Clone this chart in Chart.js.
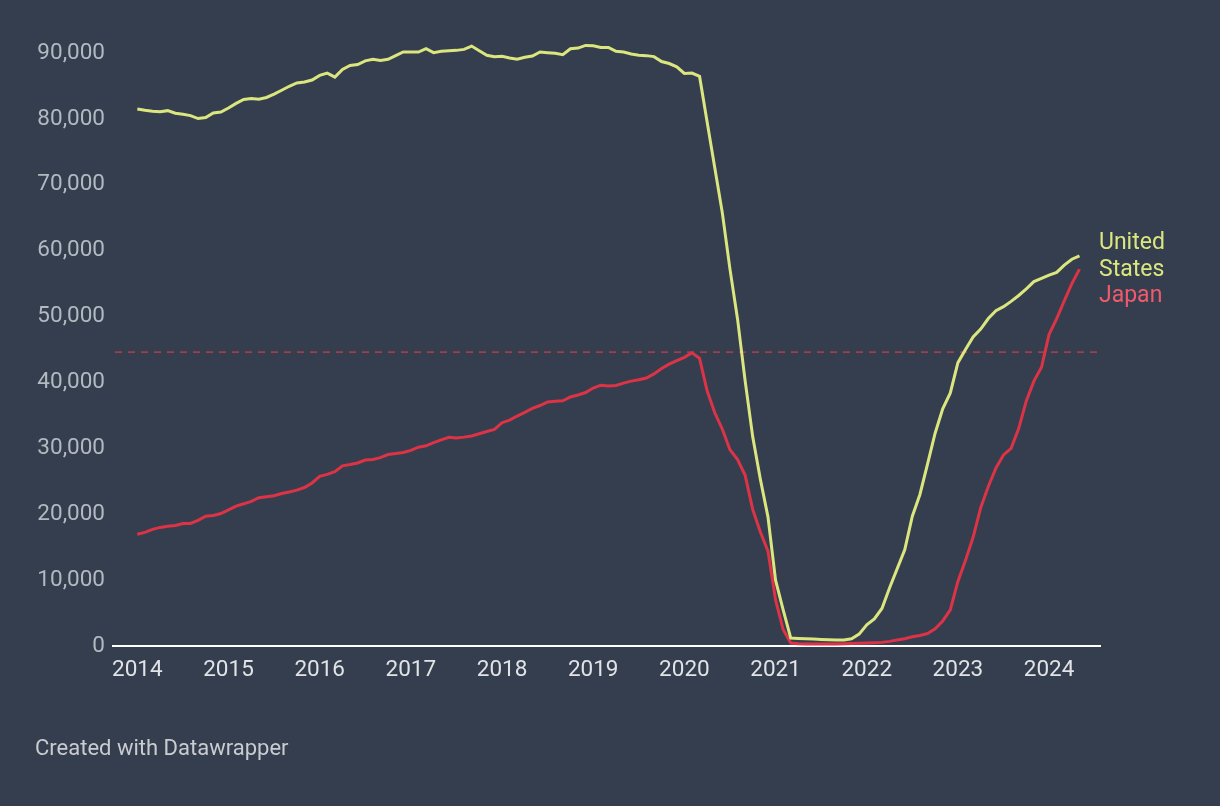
<!DOCTYPE html>
<html>
<head>
<meta charset="utf-8">
<script src="https://cdn.jsdelivr.net/npm/chart.js@4/dist/chart.umd.min.js"></script>
<style>
  html, body { margin: 0; padding: 0; background: #343e4e; }
  #wrap { position: relative; width: 1220px; height: 806px; }
  #footer { position: absolute; left: 35px; top: 735px; font: 22px Roboto, sans-serif; color: #c9ccd1; }
</style>
</head>
<body>
<div id="wrap">
  <canvas id="chart" width="1220" height="806"></canvas>
  <div id="footer">Created with Datawrapper</div>
</div>
<script>
// --- Data (monthly, Jan 2014 .. May 2024) ---
const startYear = 2014;
const yearLabels = ['2014', '2015', '2016', '2017', '2018', '2019', '2020', '2021', '2022', '2023', '2024'];
const yTicks = [0, 10000, 20000, 30000, 40000, 50000, 60000, 70000, 80000, 90000];
const refLine = 44600; // dashed line (pre-pandemic Japan level)

const usValues = [
  81500, 81300, 81150, 81100, 81250, 80850, 80700, 80500, 80050, 80200, 80900, 81050,
  81650, 82350, 82950, 83100, 83000, 83250, 83750, 84350, 84950, 85450, 85600, 85900,
  86600, 86950, 86350, 87500, 88100, 88250, 88800, 89050, 88850, 89050, 89600, 90150,
  90150, 90150, 90650, 90050, 90250, 90350, 90400, 90550, 91050, 90350, 89650, 89450,
  89500, 89250, 89050, 89350, 89550, 90150, 90050, 89950, 89750, 90650, 90750, 91150,
  91100, 90850, 90850, 90250, 90150, 89850, 89650, 89600, 89450, 88700, 88400, 87900,
  86900, 86950, 86450, 79500, 72600, 65700, 57200, 49600, 40200, 31700, 25300, 19600,
  10000, 5500, 1200, 1150, 1100, 1050, 1000, 950, 900, 900, 1100, 1800,
  3200, 4100, 5700, 8800, 11700, 14600, 19700, 23000, 27600, 32300, 36000, 38400,
  43000, 45000, 46900, 48100, 49700, 50900, 51500, 52300, 53200, 54200, 55300, 55800,
  56300, 56700, 57800, 58700, 59200
];

const japanValues = [
  16950, 17250, 17700, 18000, 18160, 18280, 18600, 18600, 19070, 19700, 19810, 20100,
  20650, 21240, 21580, 21950, 22500, 22650, 22800, 23150, 23380, 23650, 24050, 24750,
  25750, 26050, 26450, 27350, 27540, 27780, 28230, 28310, 28590, 29060, 29230, 29360,
  29680, 30170, 30380, 30870, 31280, 31670, 31580, 31700, 31880, 32210, 32550, 32880,
  33890, 34290, 34900, 35470, 36050, 36500, 37050, 37140, 37220, 37790, 38100, 38470,
  39150, 39580, 39460, 39550, 39900, 40200, 40420, 40680, 41290, 42120, 42770, 43310,
  43800, 44500, 43650, 38700, 35400, 32900, 29800, 28300, 25900, 20700, 17300, 14400,
  7000, 2500, 450, 350, 300, 300, 300, 300, 320, 350, 380, 420,
  450, 500, 550, 700, 900, 1100, 1400, 1600, 1900, 2600, 3800, 5500,
  9800, 13000, 16500, 21000, 24200, 27000, 29000, 30000, 33000, 37200, 40200, 42300,
  47300, 49700, 52400, 55000, 57200
];

const US_COLOR = '#dce67f';
const JP_COLOR = '#dc3446';

const toPoints = vals => vals.map((v, i) => ({ x: i, y: v }));

// dashed reference line + end labels
const overlayPlugin = {
  id: 'overlay',
  beforeDatasetsDraw(chart) {
    const { ctx, chartArea, scales } = chart;
    const y = scales.y.getPixelForValue(refLine);
    ctx.save();
    ctx.strokeStyle = 'rgba(200, 60, 78, 0.75)';
    ctx.lineWidth = 1.6;
    ctx.setLineDash([7, 6]);
    ctx.beginPath();
    ctx.moveTo(chartArea.left + 2, y);
    ctx.lineTo(chartArea.right, y);
    ctx.stroke();
    ctx.restore();
  },
  afterDatasetsDraw(chart) {
    const { ctx, chartArea, scales } = chart;
    const x = chartArea.right - 1;
    const yUs = scales.y.getPixelForValue(usValues[usValues.length - 1]);
    const yJp = Math.max(scales.y.getPixelForValue(japanValues[japanValues.length - 1]), yUs + 40);
    ctx.save();
    ctx.font = '23px Roboto, sans-serif';
    ctx.textAlign = 'left';
    ctx.textBaseline = 'middle';
    ctx.fillStyle = US_COLOR;
    ctx.fillText('United', x, yUs - 13);
    ctx.fillText('States', x, yUs + 14);
    ctx.fillStyle = '#f05a6c';
    ctx.fillText('Japan', x, yJp);
    ctx.restore();
  }
};

new Chart(document.getElementById('chart'), {
  type: 'line',
  data: {
    datasets: [
      { label: 'United States', data: toPoints(usValues), borderColor: US_COLOR, borderWidth: 3, pointRadius: 0, tension: 0, clip: false },
      { label: 'Japan', data: toPoints(japanValues), borderColor: JP_COLOR, borderWidth: 3, pointRadius: 0, tension: 0, clip: false }
    ]
  },
  options: {
    responsive: false,
    animation: false,
    layout: { padding: { top: 53, right: 120, bottom: 0, left: 0 } },
    plugins: { legend: { display: false }, tooltip: { enabled: false } },
    scales: {
      x: {
        type: 'linear',
        min: -3.2,
        max: 126.7,
        afterBuildTicks: s => { s.ticks = yearLabels.map((_, i) => ({ value: i * 12 })); },
        afterFit: s => { s.height = 160; },
        ticks: {
          autoSkip: false,
          maxRotation: 0,
          padding: 11,
          color: '#e1e3e6',
          font: { family: 'Roboto', size: 22.5 },
          callback: v => yearLabels[Math.round(v / 12)]
        },
        grid: { display: false, drawTicks: false },
        border: { display: true, color: '#ffffff', width: 2 }
      },
      y: {
        min: 0,
        max: 90000,
        afterBuildTicks: s => { s.ticks = yTicks.map(v => ({ value: v })); },
        afterFit: s => { s.width = 113; },
        ticks: {
          padding: 8,
          color: '#b3b9c1',
          font: { family: 'Roboto', size: 22.5 },
          callback: v => v.toLocaleString('en-US')
        },
        grid: { display: false, drawTicks: false },
        border: { display: false }
      }
    }
  },
  plugins: [overlayPlugin]
});
</script>
</body>
</html>
